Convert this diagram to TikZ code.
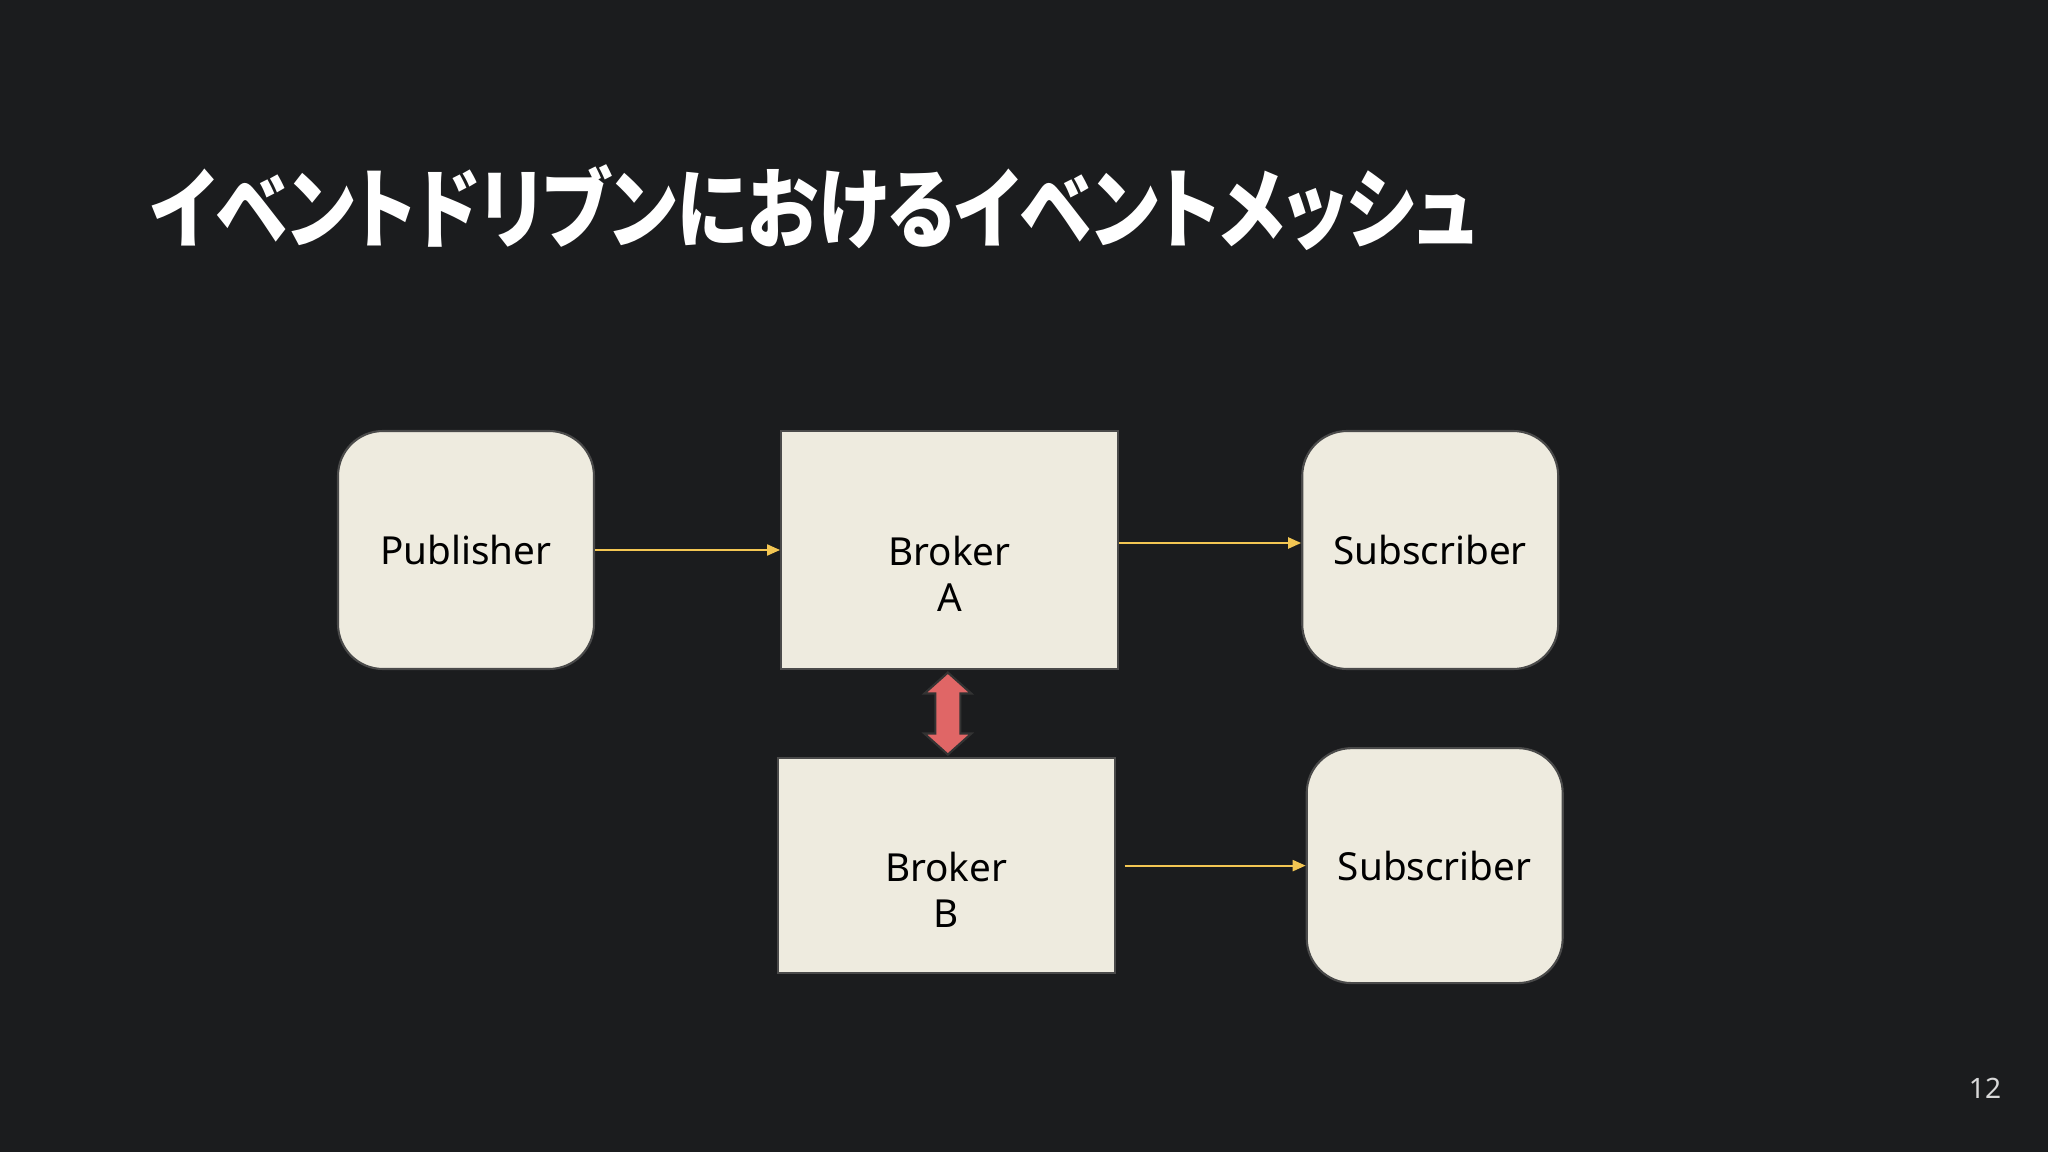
\documentclass[tikz,border=0pt]{standalone}
\usepackage{fontspec}
\setmainfont{Noto Sans}
\newfontfamily\jpfont[RawFeature=+palt]{Noto Sans CJK JP}
\usepackage{xcolor}
\usepackage{graphicx}
\usetikzlibrary{arrows.meta,positioning,calc}

\definecolor{slidebg}{HTML}{1B1C1E}
\definecolor{boxfill}{HTML}{EEEBDF}
\definecolor{boxline}{HTML}{4A4A4A}
\definecolor{msgyellow}{HTML}{F3C653}
\definecolor{syncred}{HTML}{E06666}

\begin{document}
\begin{tikzpicture}[
  node distance=8.7mm and 18.5mm,
  box/.style={draw=boxline, fill=boxfill, line width=0.6pt, align=center,
              minimum width=25.6mm, minimum height=23.8mm, text=black,
              font=\fontsize{11}{13}\selectfont},
  pbox/.style={box, rounded corners=4.5mm},
  bbox/.style={box, minimum width=33.7mm},
  arr/.style={-{Triangle[length=1.3mm,width=1.1mm]}, line width=0.6pt, draw=msgyellow},
  sync/.style={fill=syncred, draw=black!80, line width=0.6pt}]
  \fill[slidebg] (0,0) rectangle (20.48,-11.52);
  \useasboundingbox (0,0) rectangle (20.48,-11.52);
  \node[anchor=west, text=white, inner sep=0pt, font=\jpfont\bfseries\fontsize{25}{30}\selectfont]
    (title) at (1.50,-2.08) {\scalebox{0.83}[1]{イベントドリブンにおけるイベントメッシュ}};
  \node[pbox] (pub) at (4.66,-5.50) {Publisher};
  \node[bbox, right=of pub] (brokerA) {\strut\\Broker\\A};
  \node[pbox, right=18.2mm of brokerA] (subA) {Subscriber};
  \node[bbox, below=of brokerA, xshift=-0.35mm, minimum height=21.5mm] (brokerB) {\strut\\Broker\\B};
  \node[pbox, right=19.0mm of brokerB, minimum height=23.5mm] (subB) {Subscriber};
  \node[text=white!85!black, font=\fontsize{8}{9}\selectfont] (pagenum) at (19.85,-10.88) {12};
  \draw[arr] (pub) -- (brokerA);
  \draw[arr] ([yshift=0.7mm]brokerA.east) -- ([yshift=0.7mm]subA.west);
  \draw[arr, shorten <=0.9mm] (brokerB) -- (subB);
  % bidirectional link between the brokers
  \coordinate (link) at ($(brokerA.south)!0.5!(brokerB.north)$);
  \begin{scope}[shift={(link)}]
    \draw[sync] (0,0.41) -- (0.235,0.2) -- (0.125,0.2) -- (0.125,-0.2)
      -- (0.235,-0.2) -- (0,-0.41) -- (-0.235,-0.2) -- (-0.125,-0.2)
      -- (-0.125,0.2) -- (-0.235,0.2) -- cycle;
  \end{scope}
\end{tikzpicture}
\end{document}
